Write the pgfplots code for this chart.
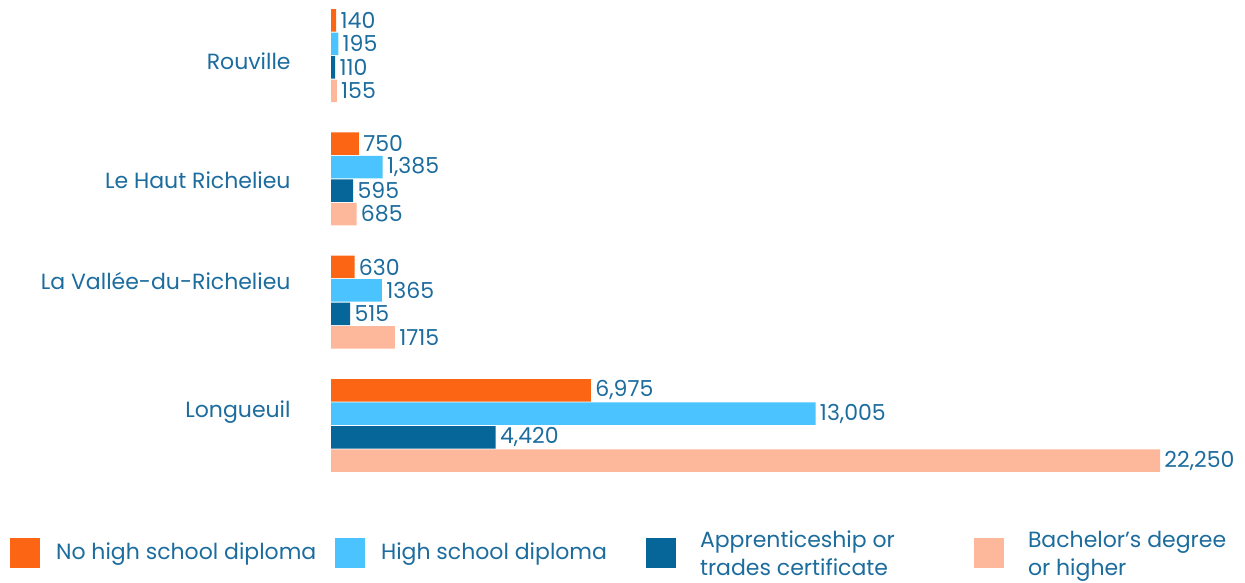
\documentclass[border=0pt]{standalone}
\usepackage{pgfplots}
\usepackage{pgfplotstable}
\pgfplotsset{compat=1.18}
\usepackage{fontspec}
\setmainfont{Poppins}

\definecolor{txt}{RGB}{28,108,158}
\definecolor{cnohs}{RGB}{252,101,20}
\definecolor{chs}{RGB}{74,195,255}
\definecolor{capp}{RGB}{7,102,153}
\definecolor{cbach}{RGB}{253,184,155}

% grp: 3 = Rouville (top) ... 0 = Longueuil (bottom)
\pgfplotstableread{
grp a    al    b     bl     c    cl    d     dl
3   140  140   195   195    110  110   155   155
2   750  750   1385  1,385  595  595   685   685
1   630  630   1365  1365   515  515   1715  1715
0   6975 6,975 13005 13,005 4420 4,420 22250 22,250
}\edu

\newcommand{\lfont}{\fontsize{11}{14}\selectfont}
\newcommand{\twoline}[2]{\hspace*{4pt}\raisebox{7pt}{\begin{tabular}{@{}l@{}}#1\\#2\end{tabular}}}

\begin{document}
\begin{tikzpicture}
\begin{axis}[
    scale only axis,
    width=457pt, height=289pt,
    xmin=0, xmax=24530,
    ymin=-1.237, ymax=3.451,
    xbar, bar width=11.25pt,
    axis x line=none,
    axis y line*=left,
    y axis line style={draw=none},
    major tick length=0pt,
    xtick=\empty,
    ytick={0.109,1.172,1.988,2.956},
    yticklabels={Longueuil, La Vallée-du-Richelieu, Le Haut Richelieu, Rouville},
    yticklabel style={font=\lfont, text=txt, xshift=-16.7pt},
    point meta=explicit symbolic,
    nodes near coords={\pgfplotspointmeta},
    nodes near coords style={font=\lfont, text=txt, anchor=west, inner sep=2pt},
    clip=false,
    legend columns=4,
    legend image code/.code={\fill[#1,draw=none] (0pt,-7.5pt) rectangle (15pt,7.5pt);},
    legend style={at={(rel axis cs:-0.3512,0.0433)}, anchor=west,
        draw=none, fill=none, inner sep=0pt, outer sep=0pt,
        font=\lfont, text=txt, column sep=6pt,
        cells={anchor=west, align=left, inner sep=0pt},
        /tikz/every even column/.append style={column sep=0pt}},
]
% page frame: 1245 x 578 px at 0.5pt per px
\path (rel axis cs:-0.3622,0) rectangle (rel axis cs:1,1);
\addplot[fill=cnohs, draw=none, bar shift=17.6pt] table[x=a, y=grp, meta=al] {\edu};
\addlegendentry{\makebox[137.5pt][l]{No high school diploma}}
\addplot[fill=chs, draw=none, bar shift=5.9pt] table[x=b, y=grp, meta=bl] {\edu};
\addlegendentry{\makebox[130.5pt][l]{High school diploma}}
\addplot[fill=capp, draw=none, bar shift=-5.9pt] table[x=c, y=grp, meta=cl] {\edu};
\addlegendentry{\makebox[139pt][l]{\twoline{Apprenticeship or}{trades certificate}}}
\addplot[fill=cbach, draw=none, bar shift=-17.6pt] table[x=d, y=grp, meta=dl] {\edu};
\addlegendentry{\twoline{Bachelor’s degree}{or higher}}
\end{axis}
\end{tikzpicture}
\end{document}
